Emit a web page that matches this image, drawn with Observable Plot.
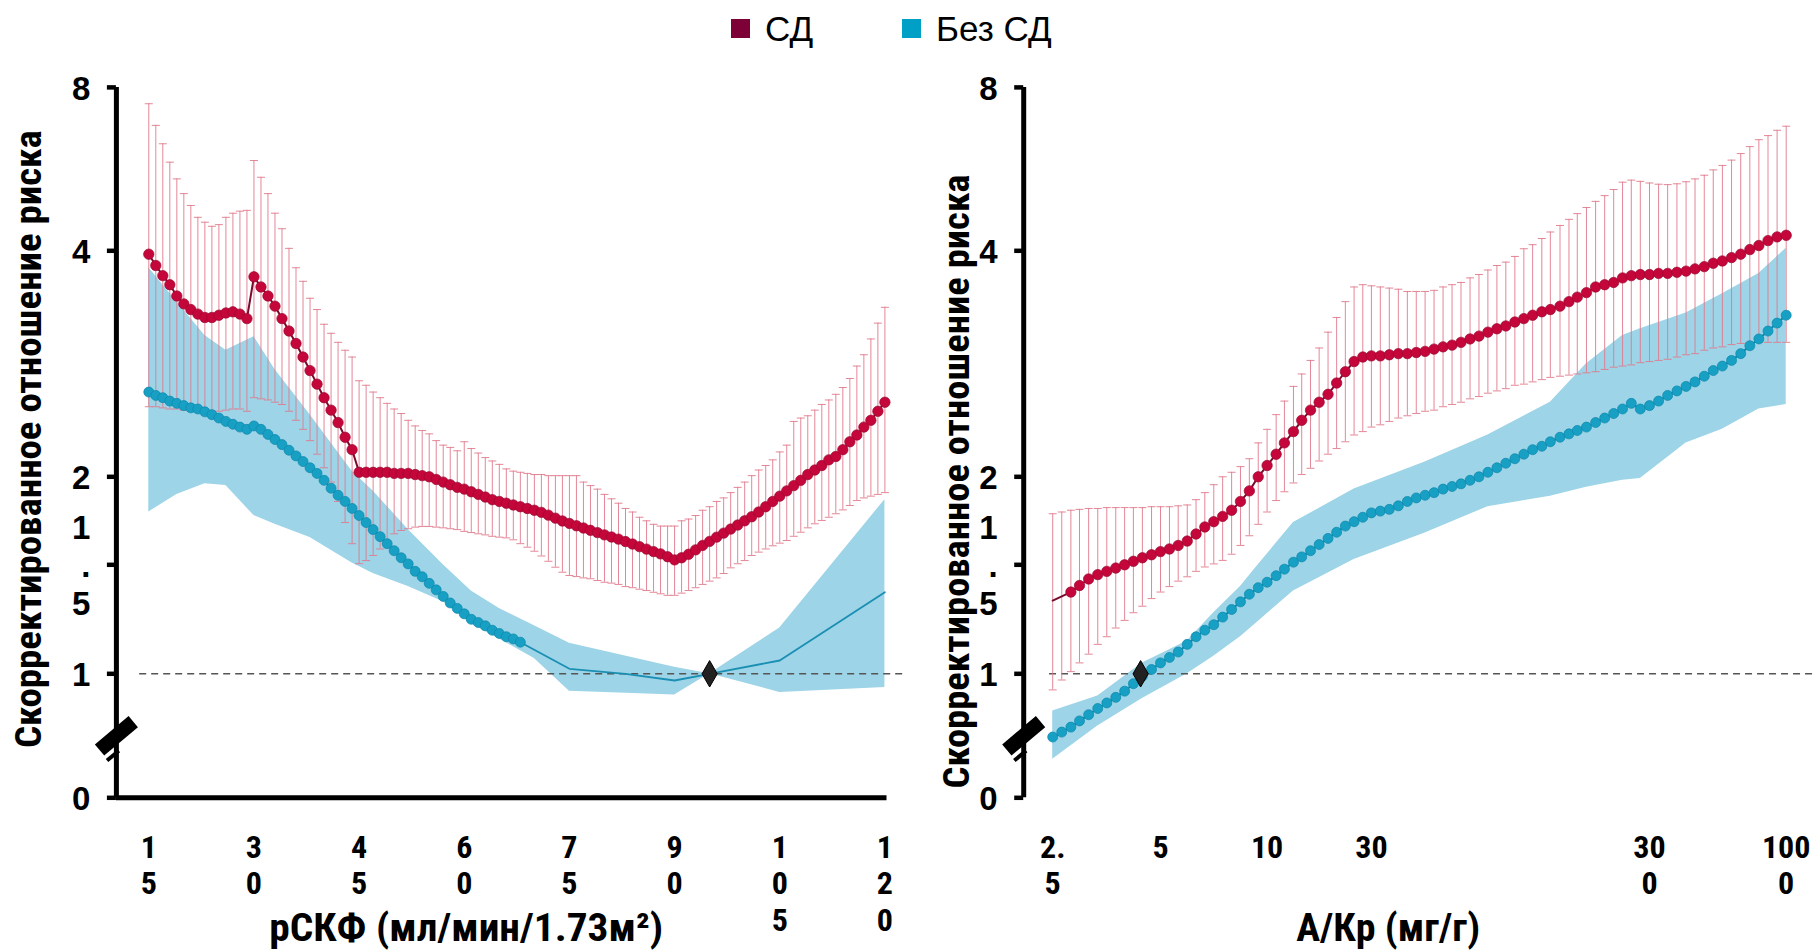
<!DOCTYPE html>
<html>
<head>
<meta charset="utf-8">
<script src="https://cdn.jsdelivr.net/npm/d3@7"></script>
<script src="https://cdn.jsdelivr.net/npm/@observablehq/plot@0.6"></script>
<style>
  html, body { margin: 0; padding: 0; background: #fff; overflow: hidden; }
  #wrap { position: relative; width: 1817px; height: 952px; overflow: hidden; background: #fff; }
  #left, #right { position: absolute; top: 0; }
  #left { left: 0; }
  #right { left: 915px; }
  #legend { position: absolute; left: 0; top: 0; width: 1817px; height: 60px; z-index: 5;
            font-family: "Liberation Sans", Arial, sans-serif; font-size: 35px; color: #000; }
  .sw { position: absolute; top: 18.5px; width: 19px; height: 19px; }
  .lt { position: absolute; top: 10.8px; line-height: 35px; white-space: nowrap; }
  svg g[aria-label="text"] text { font-stretch: condensed; }
</style>
</head>
<body>
<div id="wrap">
  <div id="legend">
    <div class="sw" style="left:731px;background:#7d0036"></div>
    <div class="lt" style="left:765px">СД</div>
    <div class="sw" style="left:902px;background:#00a0c6"></div>
    <div class="lt" style="left:936px">Без СД</div>
  </div>
  <div id="left"></div>
  <div id="right"></div>
</div>
<script>
// ---------------- DATA ----------------
// Y axis (shared): hazard ratio ticks and their labels
const yTicks = [0, 1, 1.5, 2, 4, 8];
const yTickLabels = ["0", "1", "1\n.\n5", "2", "4", "8"];

// Left panel: eGFR (ml/min/1.73m2)
const egfrTicks = [15, 30, 45, 60, 75, 90, 105, 120];
const egfrTickLabels = ["1\n5", "3\n0", "4\n5", "6\n0", "7\n5", "9\n0", "1\n0\n5", "1\n2\n0"];
const egfr = [15,16,17,18,19,20,21,22,23,24,
  25,26,27,28,29,30,31,32,33,34,
  35,36,37,38,39,40,41,42,43,44,
  45,46,47,48,49,50,51,52,53,54,
  55,56,57,58,59,60,61,62,63,64,
  65,66,67,68,69,70,71,72,73,74,
  75,76,77,78,79,80,81,82,83,84,
  85,86,87,88,89,90,91,92,93,94,
  95,96,97,98,99,100,101,102,103,104,
  105,106,107,108,109,110,111,112,113,114,
  115,116,117,118,119,120];
// Diabetes (СД): estimate, upper and lower CI
const dmEgfrHR = [3.97,3.87,3.78,3.70,3.60,3.53,3.48,3.44,3.41,3.41,
  3.43,3.45,3.46,3.44,3.40,3.77,3.68,3.60,3.51,3.40,
  3.29,3.18,3.06,2.94,2.82,2.70,2.59,2.48,2.35,2.24,
  2.04,2.04,2.04,2.04,2.04,2.03,2.03,2.03,2.02,2.01,
  2.00,1.985,1.97,1.955,1.94,1.93,1.915,1.90,1.885,1.87,
  1.86,1.85,1.84,1.83,1.82,1.81,1.798,1.782,1.765,1.749,
  1.735,1.722,1.709,1.696,1.683,1.67,1.658,1.646,1.632,1.618,
  1.603,1.589,1.575,1.562,1.546,1.528,1.54,1.56,1.585,1.61,
  1.633,1.657,1.68,1.703,1.726,1.75,1.773,1.80,1.83,1.86,
  1.89,1.92,1.95,1.98,2.02,2.06,2.10,2.15,2.18,2.24,
  2.31,2.37,2.44,2.50,2.58,2.66];
const dmEgfrHi = [7.60,7.07,6.62,6.17,5.76,5.40,5.11,4.82,4.70,4.60,
  4.64,4.82,4.92,4.97,4.99,6.21,5.80,5.40,4.92,4.54,
  4.06,3.85,3.73,3.58,3.48,3.35,3.27,3.19,3.12,3.06,
  2.85,2.81,2.75,2.70,2.65,2.60,2.56,2.50,2.45,2.41,
  2.38,2.32,2.28,2.26,2.23,2.31,2.25,2.21,2.17,2.14,
  2.11,2.07,2.05,2.04,2.03,2.02,2.02,2.01,2.01,2.01,
  2.01,2.01,1.97,1.95,1.93,1.90,1.875,1.85,1.82,1.80,
  1.77,1.75,1.73,1.72,1.72,1.72,1.75,1.76,1.78,1.81,
  1.83,1.86,1.88,1.91,1.94,1.97,2.01,2.06,2.10,2.15,
  2.22,2.28,2.49,2.52,2.54,2.59,2.64,2.68,2.73,2.79,
  2.87,2.98,3.08,3.22,3.36,3.50];
const dmEgfrLo = [2.62,2.62,2.61,2.60,2.60,2.59,2.58,2.58,2.58,2.58,
  2.58,2.59,2.60,2.60,2.58,2.70,2.69,2.68,2.66,2.64,
  2.58,2.50,2.42,2.32,2.20,2.08,1.97,1.86,1.74,1.62,
  1.506,1.524,1.553,1.59,1.638,1.676,1.695,1.705,1.714,1.718,
  1.718,1.714,1.71,1.705,1.70,1.69,1.683,1.676,1.67,1.662,
  1.657,1.653,1.642,1.62,1.60,1.577,1.55,1.52,1.489,1.466,
  1.451,1.446,1.44,1.436,1.428,1.42,1.416,1.41,1.40,1.395,
  1.388,1.382,1.374,1.367,1.36,1.36,1.37,1.382,1.395,1.41,
  1.425,1.44,1.46,1.486,1.506,1.524,1.553,1.572,1.59,1.608,
  1.623,1.638,1.662,1.685,1.71,1.733,1.752,1.77,1.79,1.812,
  1.837,1.865,1.88,1.89,1.90,1.91];
// No diabetes (Без СД): dotted part (eGFR 15..68)
const noDmEgfrDots = egfr.slice(0, 54);
const noDmEgfrHR = [2.75,2.72,2.70,2.67,2.65,2.63,2.61,2.60,2.575,2.55,
  2.52,2.49,2.465,2.44,2.42,2.45,2.42,2.375,2.33,2.285,
  2.235,2.185,2.135,2.08,2.03,1.98,1.935,1.895,1.86,1.82,
  1.78,1.74,1.70,1.66,1.62,1.58,1.54,1.505,1.47,1.445,
  1.415,1.385,1.355,1.325,1.30,1.275,1.25,1.235,1.22,1.20,
  1.185,1.17,1.16,1.145];
// No diabetes: thin line part
const noDmEgfrLineX = [68, 75, 83, 90, 95, 105, 120];
const noDmEgfrLineHR = [1.145, 1.023, 1.0, 0.946, 1.0, 1.061, 1.374];
// No diabetes: confidence band
const noDmEgfrBandX  = [15, 19, 23, 26, 30, 33, 38, 44, 47, 52, 57, 61, 65, 70, 75, 90, 95, 105, 120];
const noDmEgfrBandLo = [1.80, 1.90, 1.96, 1.95, 1.78, 1.73, 1.655, 1.51, 1.46, 1.40, 1.33, 1.23, 1.16, 1.07, 0.86, 0.83, 1.0, 0.85, 0.89];
const noDmEgfrBandHi = [3.85, 3.55, 3.25, 3.12, 3.24, 2.95, 2.55, 2.05, 1.92, 1.70, 1.50, 1.38, 1.30, 1.22, 1.14, 1.03, 1.0, 1.21, 1.87];
const egfrRef = 95;

// Right panel: ACR (mg/g)
const acrTicks = [2.5, 5, 10, 30, 300, 1000];
const acrTickLabels = ["2.\n5", "5", "10", "30", "30\n0", "100\n0"];
const acr = [2.5,2.65,2.81,2.97,3.15,3.34,3.54,3.75,3.97,4.2,4.45,4.72,
  5,5.3,5.61,5.95,6.3,6.67,7.07,7.49,7.94,8.41,8.91,9.44,
  10,11,12,13.2,14.4,15.8,17.3,19,20.8,22.8,25,27.4,
  30,32.3,34.8,37.5,40.4,43.5,46.8,50.4,54.3,58.5,63,67.9,73.1,78.7,84.8,91.3,98.4,
  106,114,123,132,143,154,165,178,192,207,223,240,258,278,
  300,325,352,382,414,448,486,526,570,618,670,726,786,852,923,1000];
const dmAcrHR = [1.336,1.355,1.375,1.405,1.435,1.455,1.47,1.485,1.50,1.52,1.54,1.557,
  1.575,1.59,1.61,1.635,1.675,1.715,1.745,1.775,1.81,1.86,1.92,2.00,
  2.10,2.20,2.30,2.40,2.50,2.59,2.66,2.73,2.83,2.93,3.02,3.06,
  3.07,3.07,3.08,3.09,3.09,3.10,3.11,3.13,3.15,3.165,3.19,3.22,
  3.245,3.28,3.31,3.335,3.37,3.40,3.43,3.46,3.48,3.51,3.55,3.59,
  3.63,3.68,3.70,3.72,3.76,3.78,3.79,3.79,3.80,3.80,3.81,3.82,
  3.84,3.86,3.89,3.91,3.94,3.97,4.03,4.13,4.25,4.34,4.38];
const dmAcrHi = [1.79,1.80,1.81,1.815,1.82,1.82,1.825,1.825,1.825,1.825,1.825,1.83,
  1.83,1.83,1.835,1.84,1.87,1.91,1.955,2.0,2.04,2.09,2.16,2.30,
  2.42,2.55,2.67,2.80,2.91,3.03,3.14,3.28,3.41,3.55,3.68,3.70,
  3.69,3.68,3.67,3.66,3.64,3.64,3.64,3.65,3.68,3.70,3.72,3.76,
  3.79,3.83,3.87,3.90,3.95,4.05,4.15,4.30,4.46,4.62,4.77,4.91,
  5.06,5.21,5.35,5.50,5.68,5.73,5.70,5.66,5.63,5.62,5.64,5.69,
  5.76,5.85,5.98,6.09,6.22,6.38,6.55,6.72,6.82,6.95,7.05];
const dmAcrLo = [0.87,0.95,1.01,1.05,1.09,1.135,1.17,1.21,1.245,1.28,1.31,1.345,
  1.375,1.40,1.425,1.445,1.47,1.49,1.505,1.525,1.56,1.61,1.665,1.73,
  1.80,1.865,1.915,1.965,2.02,2.075,2.14,2.20,2.25,2.31,2.37,2.40,
  2.44,2.46,2.49,2.52,2.54,2.56,2.58,2.59,2.62,2.64,2.66,2.69,
  2.71,2.74,2.76,2.78,2.81,2.82,2.84,2.86,2.88,2.89,2.90,2.91,
  2.92,2.93,2.95,2.97,2.98,2.99,3.01,3.02,3.03,3.04,3.06,3.08,
  3.09,3.12,3.14,3.15,3.17,3.18,3.19,3.19,3.19,3.19,3.19];
const noDmAcrHR = [0.49,0.53,0.57,0.62,0.67,0.72,0.765,0.81,0.86,0.92,0.98,1.02,
  1.05,1.075,1.10,1.135,1.17,1.20,1.225,1.26,1.295,1.33,1.365,1.395,
  1.42,1.45,1.48,1.515,1.545,1.58,1.615,1.65,1.685,1.72,1.745,1.77,
  1.795,1.805,1.815,1.835,1.86,1.88,1.895,1.91,1.93,1.945,1.96,1.98,
  2.00,2.04,2.08,2.12,2.16,2.20,2.24,2.27,2.31,2.35,2.38,2.41,
  2.44,2.48,2.52,2.56,2.60,2.65,2.60,2.63,2.67,2.72,2.76,2.80,
  2.84,2.89,2.94,2.98,3.03,3.09,3.16,3.22,3.29,3.36,3.43];
const noDmAcrBandX  = [2.5, 3.34, 4.45, 5.95, 7.07, 8.41, 9.44, 13.2, 25, 46.8, 78.7, 132, 178, 240, 278, 414, 570, 786, 1000];
const noDmAcrBandLo = [0.31, 0.58, 0.80, 1.0, 1.08, 1.17, 1.24, 1.38, 1.53, 1.68, 1.83, 1.89, 1.94, 1.98, 1.99, 2.30, 2.42, 2.60, 2.64];
const noDmAcrBandHi = [0.70, 0.82, 1.05, 1.15, 1.28, 1.40, 1.50, 1.74, 1.93, 2.13, 2.37, 2.66, 3.00, 3.25, 3.31, 3.45, 3.62, 3.80, 4.06];
const acrRef = 4.4;

// Text
const yTitle = "Скорректированное отношение риска";
const xTitleLeft = "рСКФ (мл/мин/1.73м²)";
const xTitleRight = "А/Кр (мг/г)";

// ---------------- STYLE / LAYOUT ----------------
const RED = "#c4063a", RED_EDGE = "#9a0830", RED_LINE = "#7a0a2c";
const BLUE = "#17a0c4", BLUE_EDGE = "#0d87aa", BLUE_LINE = "#1a8fb3";
const BAND = "#9dd4e7", BAR = "#e07a8c";
const NARROW = "'Liberation Sans Narrow', 'Roboto Condensed', 'Noto Sans Condensed', 'Open Sans Condensed', 'DejaVu Sans Condensed', 'Liberation Sans', Arial, sans-serif";
const ARIAL = "'Liberation Sans', Arial, sans-serif";

const Y_RANGE = [797.3, 673.3, 564.3, 476.3, 250.3, 86.9];
const H = 952, MT = 87, MB = 155;

const capSymbol = { draw(ctx, size) { const r = Math.sqrt(size / Math.PI); ctx.moveTo(-r, 0); ctx.lineTo(r, 0); } };
const breakSymbol = {
  draw(ctx, size) {
    const r = Math.sqrt(size / Math.PI);
    const a = -40 * Math.PI / 180, c = Math.cos(a), s = Math.sin(a);
    const P = (u, v) => [u * c - v * s, u * s + v * c];
    const rect = (u0, u1, v0, v1) => {
      const p = [P(u0, v0), P(u1, v0), P(u1, v1), P(u0, v1)];
      ctx.moveTo(p[0][0], p[0][1]);
      for (let k = 1; k < 4; k++) ctx.lineTo(p[k][0], p[k][1]);
      ctx.closePath();
    };
    rect(-r, r, -r * 0.33, r * 0.33);
    rect(-r * 1.05, -r * 0.35, r * 0.5, r * 0.68);
  }
};

const labelMap = (ticks, labels) => { const m = new Map(ticks.map((t, i) => [t, labels[i]])); return d => m.get(d); };

function panel({width, marginLeft, marginRight, x, xTicks, xLabels, xMin, xMax, dashFrom, dashTo,
                redRows, redDotsFrom, blueDotRows, blueLineRows, bandRows, ref, xAxisLine, titleX, titleXdx, titleYdx, titleYdy}) {
  const marks = [
    Plot.areaY(bandRows, {x: "x", y1: "lo", y2: "hi", fill: BAND, curve: "linear"}),
    Plot.ruleY([1], {x1: dashFrom, x2: dashTo, stroke: "#555", strokeWidth: 1.6, strokeDasharray: "7,5"}),
    Plot.ruleX(redRows, {x: "x", y1: "lo", y2: "hi", stroke: BAR, strokeWidth: 1, strokeOpacity: 0.9}),
    Plot.dot(redRows, {x: "x", y: "hi", symbol: capSymbol, r: 4, fill: "none", stroke: BAR, strokeWidth: 1, strokeOpacity: 0.9}),
    Plot.dot(redRows, {x: "x", y: "lo", symbol: capSymbol, r: 4, fill: "none", stroke: BAR, strokeWidth: 1, strokeOpacity: 0.9}),
  ];
  if (blueLineRows) marks.push(Plot.line(blueLineRows, {x: "x", y: "y", stroke: BLUE_LINE, strokeWidth: 1.8}));
  marks.push(
    Plot.line(blueDotRows, {x: "x", y: "y", stroke: BLUE_EDGE, strokeWidth: 2}),
    Plot.dot(blueDotRows, {x: "x", y: "y", r: 5, fill: BLUE, stroke: BLUE_EDGE, strokeWidth: 0.7}),
    Plot.line(redRows, {x: "x", y: "y", stroke: RED_LINE, strokeWidth: 2}),
    Plot.dot(redRows.slice(redDotsFrom), {x: "x", y: "y", r: 5.2, fill: RED, stroke: RED_EDGE, strokeWidth: 0.7}),
    Plot.dot([ref], {x: d => d, y: () => 1, symbol: "diamond", r: 8, fill: "#222", stroke: "#000", strokeWidth: 1}),
    // axes
    Plot.ruleX([xMin], {y1: 0, y2: 8, stroke: "#000", strokeWidth: 5}),
  );
  if (xAxisLine) marks.push(Plot.ruleY([0], {x1: xMin, x2: xMax, stroke: "#000", strokeWidth: 5}));
  marks.push(
    Plot.axisY({ticks: yTicks, tickFormat: labelMap(yTicks, yTickLabels), tickSize: 9, tickPadding: 17,
                strokeWidth: 4.5, fontSize: 33, fontWeight: "bold", fontFamily: ARIAL, lineHeight: 1.16, label: null}),
    Plot.text(xTicks, {x: d => d, text: labelMap(xTicks, xLabels), frameAnchor: "bottom", dy: 34,
                lineAnchor: "top", textAnchor: "middle", fontSize: 32, lineHeight: 1.15,
                fontWeight: "bold", fontFamily: NARROW, fill: "#000"}),
    Plot.dot([xMin], {x: d => d, y: () => 0.5, symbol: breakSymbol, r: 22, fill: "#000", stroke: "none"}),
    Plot.text([titleX], {frameAnchor: "bottom", dx: titleXdx, dy: 131, lineAnchor: "middle", textAnchor: "middle",
                fontSize: 39, fontWeight: "bold", fontFamily: NARROW, fill: "#000"}),
    Plot.text([yTitle], {frameAnchor: "left", rotate: -90, dx: titleYdx, dy: titleYdy, lineAnchor: "middle", textAnchor: "middle",
                fontSize: 37, fontWeight: "bold", fontFamily: NARROW, fill: "#000"})
  );
  return Plot.plot({
    width, height: H, marginLeft, marginRight, marginTop: MT, marginBottom: MB,
    style: {background: "transparent", overflow: "visible"},
    x: {...x, axis: null},
    y: {type: "linear", domain: yTicks, range: Y_RANGE, axis: null},
    marks
  });
}

// set a title to the length it has in the reference
function fitText(svg, str, target) {
  for (const t of svg.querySelectorAll("text")) {
    if (t.textContent === str) {
      t.setAttribute("textLength", target);
      t.setAttribute("lengthAdjust", "spacingAndGlyphs");
    }
  }
}

// Left
const redL = egfr.map((x, i) => ({x, y: dmEgfrHR[i], hi: dmEgfrHi[i], lo: dmEgfrLo[i]}));
const blueDotsL = noDmEgfrDots.map((x, i) => ({x, y: noDmEgfrHR[i]}));
const blueLineL = noDmEgfrLineX.map((x, i) => ({x, y: noDmEgfrLineHR[i]}));
const bandL = noDmEgfrBandX.map((x, i) => ({x, lo: noDmEgfrBandLo[i], hi: noDmEgfrBandHi[i]}));
const leftPlot = panel({
  width: 915, marginLeft: 115.9, marginRight: 28.5,
  x: {type: "linear", domain: [10.38, 120.3], range: [115.9, 886.5]},
  xTicks: egfrTicks, xLabels: egfrTickLabels, xMin: 10.38, xMax: 120.3, dashFrom: 13.7, dashTo: 123.1,
  redRows: redL, redDotsFrom: 0, blueDotRows: blueDotsL, blueLineRows: blueLineL, bandRows: bandL,
  ref: egfrRef, xAxisLine: true, titleX: xTitleLeft, titleXdx: -35.5, titleYdx: -87, titleYdy: -3.4
});
document.getElementById("left").appendChild(leftPlot);

// Right
const redR = acr.map((x, i) => ({x, y: dmAcrHR[i], hi: dmAcrHi[i], lo: dmAcrLo[i]}));
const blueDotsR = acr.map((x, i) => ({x, y: noDmAcrHR[i]}));
const bandR = noDmAcrBandX.map((x, i) => ({x, lo: noDmAcrBandLo[i], hi: noDmAcrBandHi[i]}));
const rightPlot = panel({
  width: 902, marginLeft: 108.2, marginRight: 1.5,
  x: {type: "log", domain: [2.075, 2.5, 5, 10, 30, 300, 1000, 1300], range: [108.2, 137.2, 245.0, 351.6, 455.9, 734.0, 870.7, 900.5]},
  xTicks: acrTicks, xLabels: acrTickLabels, xMin: 2.075, xMax: 1300, dashFrom: 2.45, dashTo: 1300,
  redRows: redR, redDotsFrom: 2, blueDotRows: blueDotsR, blueLineRows: null, bandRows: bandR,
  ref: acrRef, xAxisLine: false, titleX: xTitleRight, titleXdx: -31.7, titleYdx: -66.2, titleYdy: 39
});
document.getElementById("right").appendChild(rightPlot);

fitText(leftPlot, xTitleLeft, 394);
fitText(leftPlot, yTitle, 618);
fitText(rightPlot, xTitleRight, 184);
fitText(rightPlot, yTitle, 614);
</script>
</body>
</html>
